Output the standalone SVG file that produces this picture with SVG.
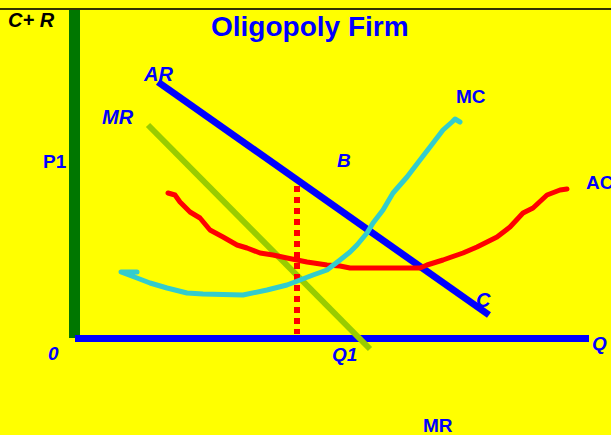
<svg xmlns="http://www.w3.org/2000/svg" width="611" height="435" viewBox="0 0 611 435">
<style>
text{font-family:"Liberation Sans",Arial,sans-serif;font-weight:bold;fill:#0000ff}
.it{font-style:italic}
.curve{fill:none;stroke-linejoin:round;stroke-linecap:round}
</style>
<rect width="611" height="435" fill="#ffff00"/>
<line x1="0" y1="9" x2="611" y2="9" stroke="#333300" stroke-width="2"/>
<g id="axes">
<line x1="74.5" y1="10" x2="74.5" y2="338" stroke="#007700" stroke-width="11"/>
<line x1="75" y1="338.5" x2="589" y2="338.5" stroke="#0000ff" stroke-width="7"/>
</g>
<g id="title"><text x="211" y="36" font-size="28">Oligopoly Firm</text></g>
<g id="connectors">
<line id="AR-line" x1="158" y1="82" x2="489" y2="315" stroke="#0000ff" stroke-width="7"/>
<line id="MR-line" x1="148" y1="125" x2="370" y2="349" stroke="#99cc00" stroke-width="6"/>
<line id="Q1-drop" x1="297" y1="186" x2="297" y2="334" stroke="#ff0000" stroke-width="6" stroke-dasharray="6 5"/>
<polyline id="AC-curve" class="curve" stroke="#ff0000" stroke-width="5" points="168,193 175,195 180,202 190,212 200,218 210,230 223,237 237,245 247,248 260,253 273,255 287,258 297,260 307,262 327,265 340,266 350,268 420,268 427,265 443,260 463,253 477,247 497,237 510,227 523,213 533,208 547,195 560,190 567,189"/>
<polyline id="MC-curve" class="curve" stroke="#33cccc" stroke-width="5" points="137,272 121,272 137,278 150,283 167,288 187,293 203,294 243,295 267,290 287,285 300,280 313,275 327,270 340,260 350,252 357,245 367,233 373,223 383,210 393,193 407,177 420,160 430,147 443,130 452,122 455,119 460,122"/>
</g>
<g id="labels">
<text class="it" x="8" y="27" font-size="20" style="fill:#000">C+ R</text>
<text x="43" y="168" font-size="19">P1</text>
<text class="it" x="144" y="81" font-size="20">AR</text>
<text class="it" x="102" y="124" font-size="20">MR</text>
<text class="it" x="337" y="167" font-size="19">B</text>
<text x="456" y="103" font-size="19">MC</text>
<text x="586" y="189" font-size="19">AC</text>
<text class="it" x="476" y="307" font-size="20">C</text>
<text class="it" x="592" y="350" font-size="19">Q</text>
<text class="it" x="48" y="360" font-size="19">0</text>
<text class="it" x="332" y="361" font-size="19">Q1</text>
<text x="423" y="432" font-size="19">MR</text>
</g>
</svg>
